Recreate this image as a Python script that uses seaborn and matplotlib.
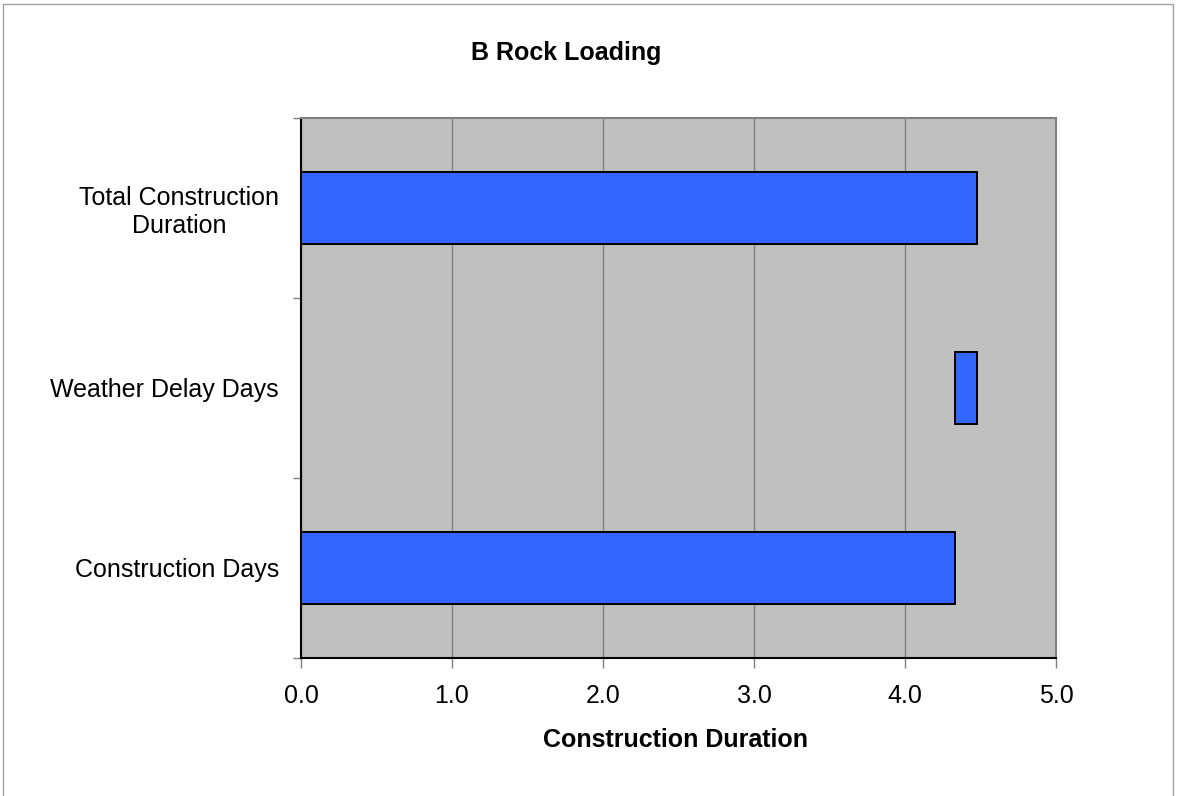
import seaborn as sns
import pandas as pd
import matplotlib.pyplot as plt
from matplotlib.patches import Rectangle

# Data (waterfall: construction days + weather delay = total)
categories = ['Total Construction\nDuration', 'Weather Delay Days', 'Construction Days']
starts = [0.0, 4.33, 0.0]
lengths = [4.48, 0.15, 4.33]
x_ticks = [0.0, 1.0, 2.0, 3.0, 4.0, 5.0]

data = pd.DataFrame({'Category': categories, 'Start': starts, 'Length': lengths})

sns.set_style('white')
plt.rcParams['font.family'] = ['Liberation Sans', 'DejaVu Sans']
plt.rcParams['text.color'] = 'black'
plt.rcParams['xtick.labelcolor'] = 'black'
plt.rcParams['ytick.labelcolor'] = 'black'
plt.rcParams['axes.labelcolor'] = 'black'

fig = plt.figure(figsize=(11.8, 7.96), dpi=100)
ax = fig.add_axes([301 / 1180, 1 - 658 / 796, 755 / 1180, 540 / 796])
ax.set_facecolor('#C0C0C0')

sns.barplot(data=data, x='Length', y='Category', order=categories,
            left=data['Start'].values, color='#3366FF', saturation=1,
            edgecolor='black', linewidth=1.4, width=0.4, ax=ax, zorder=3)

ax.set_xlim(0, 5)
ax.set_ylim(2.5, -0.5)
ax.set_xticks(x_ticks)
ax.set_xticklabels([f'{v:.1f}' for v in x_ticks], fontsize=18)
ax.xaxis.grid(True, color='#808080', linewidth=1, zorder=0)
ax.set_axisbelow(True)

# category boundaries get tick marks, centres get labels
ax.set_yticks([-0.5, 0.5, 1.5, 2.5])
ax.set_yticklabels([])
ax.set_yticks([0, 1, 2], minor=True)
ax.set_yticklabels(categories, minor=True, fontsize=18, ha='right', multialignment='center')
ax.tick_params(axis='y', which='minor', length=0, pad=16)
ax.tick_params(axis='y', which='major', length=6, width=1, color='#808080', direction='out', left=True)
ax.tick_params(axis='x', length=7, width=1, color='#808080', direction='out', bottom=True, pad=12)

ax.set_xlabel('Construction Duration', fontsize=18, fontweight='bold')
ax.xaxis.set_label_coords((676 - 301) / 755, -(728 - 658) / 540)
ax.set_ylabel('')

for side in ['top', 'right']:
    ax.spines[side].set_color('#808080')
    ax.spines[side].set_linewidth(1.5)
for side in ['left', 'bottom']:
    ax.spines[side].set_color('black')
    ax.spines[side].set_linewidth(1.5)

fig.text(566 / 1180, 1 - 53 / 796, 'B Rock Loading', fontsize=18, fontweight='bold',
         ha='center', va='center')

fig.patches.append(Rectangle((3 / 1180, -0.01), 1170 / 1180, 1.01 - 4 / 796, transform=fig.transFigure,
                             fill=False, edgecolor='#A0A0A0', linewidth=1))

fig.savefig('out.png', dpi=100)
